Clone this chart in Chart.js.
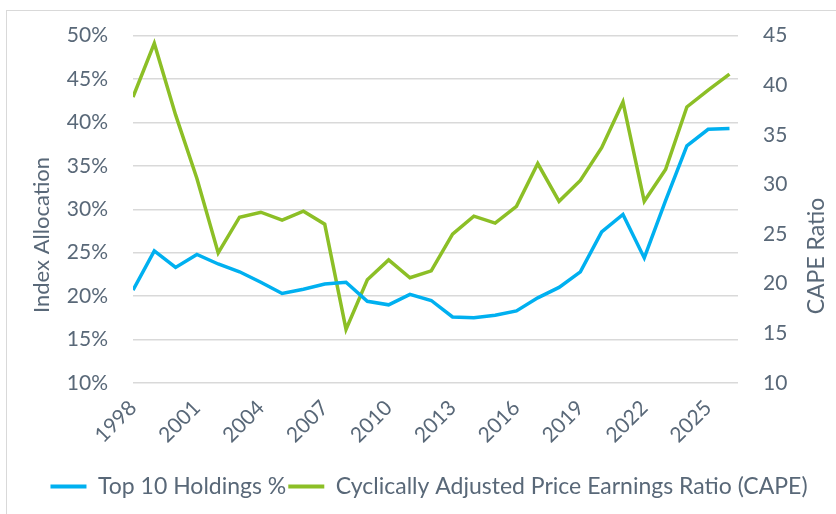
<!DOCTYPE html>
<html>
<head>
<meta charset="utf-8">
<script src="https://cdn.jsdelivr.net/npm/chart.js@4/dist/chart.umd.min.js"></script>
<style>
  html, body { margin: 0; padding: 0; background: #fff; }
  #wrap { position: relative; width: 836px; height: 514px; overflow: hidden; }
  #frame { position: absolute; left: 6px; top: 10px; width: 900px; height: 600px; border: 1px solid #d9d9d9; }
  #c { position: absolute; left: 0; top: 0; }
</style>
</head>
<body>
<div id="wrap">
  <div id="frame"></div>
  <canvas id="c" width="836" height="514"></canvas>
</div>
<script>
const years = [1998,1999,2000,2001,2002,2003,2004,2005,2006,2007,2008,2009,2010,2011,2012,
  2013,2014,2015,2016,2017,2018,2019,2020,2021,2022,2023,2024,2025,2026]
const top10 = [20.7,25.2,23.3,24.8,23.7,22.8,21.6,20.3,20.8,21.4,21.6,19.4,19.0,20.2,19.5,
  17.6,17.5,17.8,18.3,19.8,21.0,22.8,27.4,29.4,24.4,31.0,37.3,39.2,39.3]
const cape = [38.8,44.2,37.0,30.6,23.1,26.7,27.2,26.4,27.3,26.0,15.4,20.4,22.4,20.6,21.3,
  25.0,26.8,26.1,27.8,32.1,28.3,30.4,33.7,38.3,28.3,31.5,37.8,39.5,41.1]
const leftTicks = [10,15,20,25,30,35,40,45,50]
const rightTicks = [10,15,20,25,30,35,40,45]

const textColor = '#596878'
const blue = '#00b0f0'
const green = '#8cbf26'
const tickFont = { family: 'Lato', size: 21, lineHeight: 1 }
const legendFont = { family: 'Lato', size: 23 }

// axis titles drawn where excel puts them
const axisTitles = {
  id: 'axisTitles',
  afterDraw(chart) {
    const ctx = chart.ctx
    const drawTitle = (text, x, y, size) => {
      ctx.save()
      ctx.fillStyle = textColor
      ctx.font = size + 'px Lato'
      ctx.textAlign = 'center'
      ctx.textBaseline = 'middle'
      ctx.translate(x, y)
      ctx.rotate(-Math.PI / 2)
      ctx.fillText(text, 0, 0)
      ctx.restore()
    }
    drawTitle('Index Allocation', 42, 235, 22)
    drawTitle('CAPE Ratio', 817, 256, 23)
  }
}

new Chart(document.getElementById('c'), {
  type: 'line',
  data: {
    datasets: [{
      label: 'Top 10 Holdings %',
      data: years.map((y, i) => ({ x: y, y: top10[i] })),
      borderColor: blue,
      backgroundColor: blue,
      borderWidth: 3.5,
      pointRadius: 0,
      tension: 0,
      yAxisID: 'y'
    }, {
      label: 'Cyclically Adjusted Price Earnings Ratio (CAPE)',
      data: years.map((y, i) => ({ x: y, y: cape[i] })),
      borderColor: green,
      backgroundColor: green,
      borderWidth: 3.5,
      pointRadius: 0,
      tension: 0,
      yAxisID: 'y1'
    }]
  },
  options: {
    responsive: false,
    animation: false,
    layout: { padding: { top: 35, left: 22, right: 0, bottom: 6 } },
    plugins: {
      legend: {
        position: 'bottom',
        labels: {
          color: textColor,
          font: legendFont,
          boxWidth: 36,
          boxHeight: 4,
          padding: 2,
          generateLabels(chart) {
            return chart.data.datasets.map((ds, i) => ({
              text: ds.label,
              fillStyle: ds.borderColor,
              strokeStyle: ds.borderColor,
              lineWidth: 0,
              fontColor: textColor,
              datasetIndex: i
            }))
          }
        }
      },
      tooltip: { enabled: false }
    },
    scales: {
      x: {
        type: 'linear',
        min: 1998,
        max: 2026.4,
        grid: { display: false, drawTicks: false },
        border: { display: false },
        afterBuildTicks(scale) {
          scale.ticks = years.filter(y => (y - 1998) % 3 === 0).map(y => ({ value: y }))
        },
        afterFit(scale) { scale.height = 90 },
        ticks: {
          color: textColor,
          font: tickFont,
          minRotation: 45,
          maxRotation: 45,
          padding: 14,
          callback: v => String(v)
        }
      },
      y: {
        position: 'left',
        min: 10,
        max: 50,
        afterBuildTicks(scale) { scale.ticks = leftTicks.map(v => ({ value: v })) },
        afterFit(scale) { scale.width = 111 },
        grid: { color: '#d9d9d9', lineWidth: 1.5, drawTicks: false },
        border: { display: false },
        ticks: {
          color: textColor,
          font: tickFont,
          padding: 25,
          callback: v => v + '%'
        }
      },
      y1: {
        position: 'right',
        min: 10,
        max: 45,
        afterBuildTicks(scale) { scale.ticks = rightTicks.map(v => ({ value: v })) },
        afterFit(scale) { scale.width = 836 - 738 },
        grid: { display: false, drawTicks: false },
        border: { display: false },
        ticks: {
          color: textColor,
          font: tickFont,
          padding: 25
        }
      }
    }
  },
  plugins: [axisTitles]
})
</script>
</body>
</html>
